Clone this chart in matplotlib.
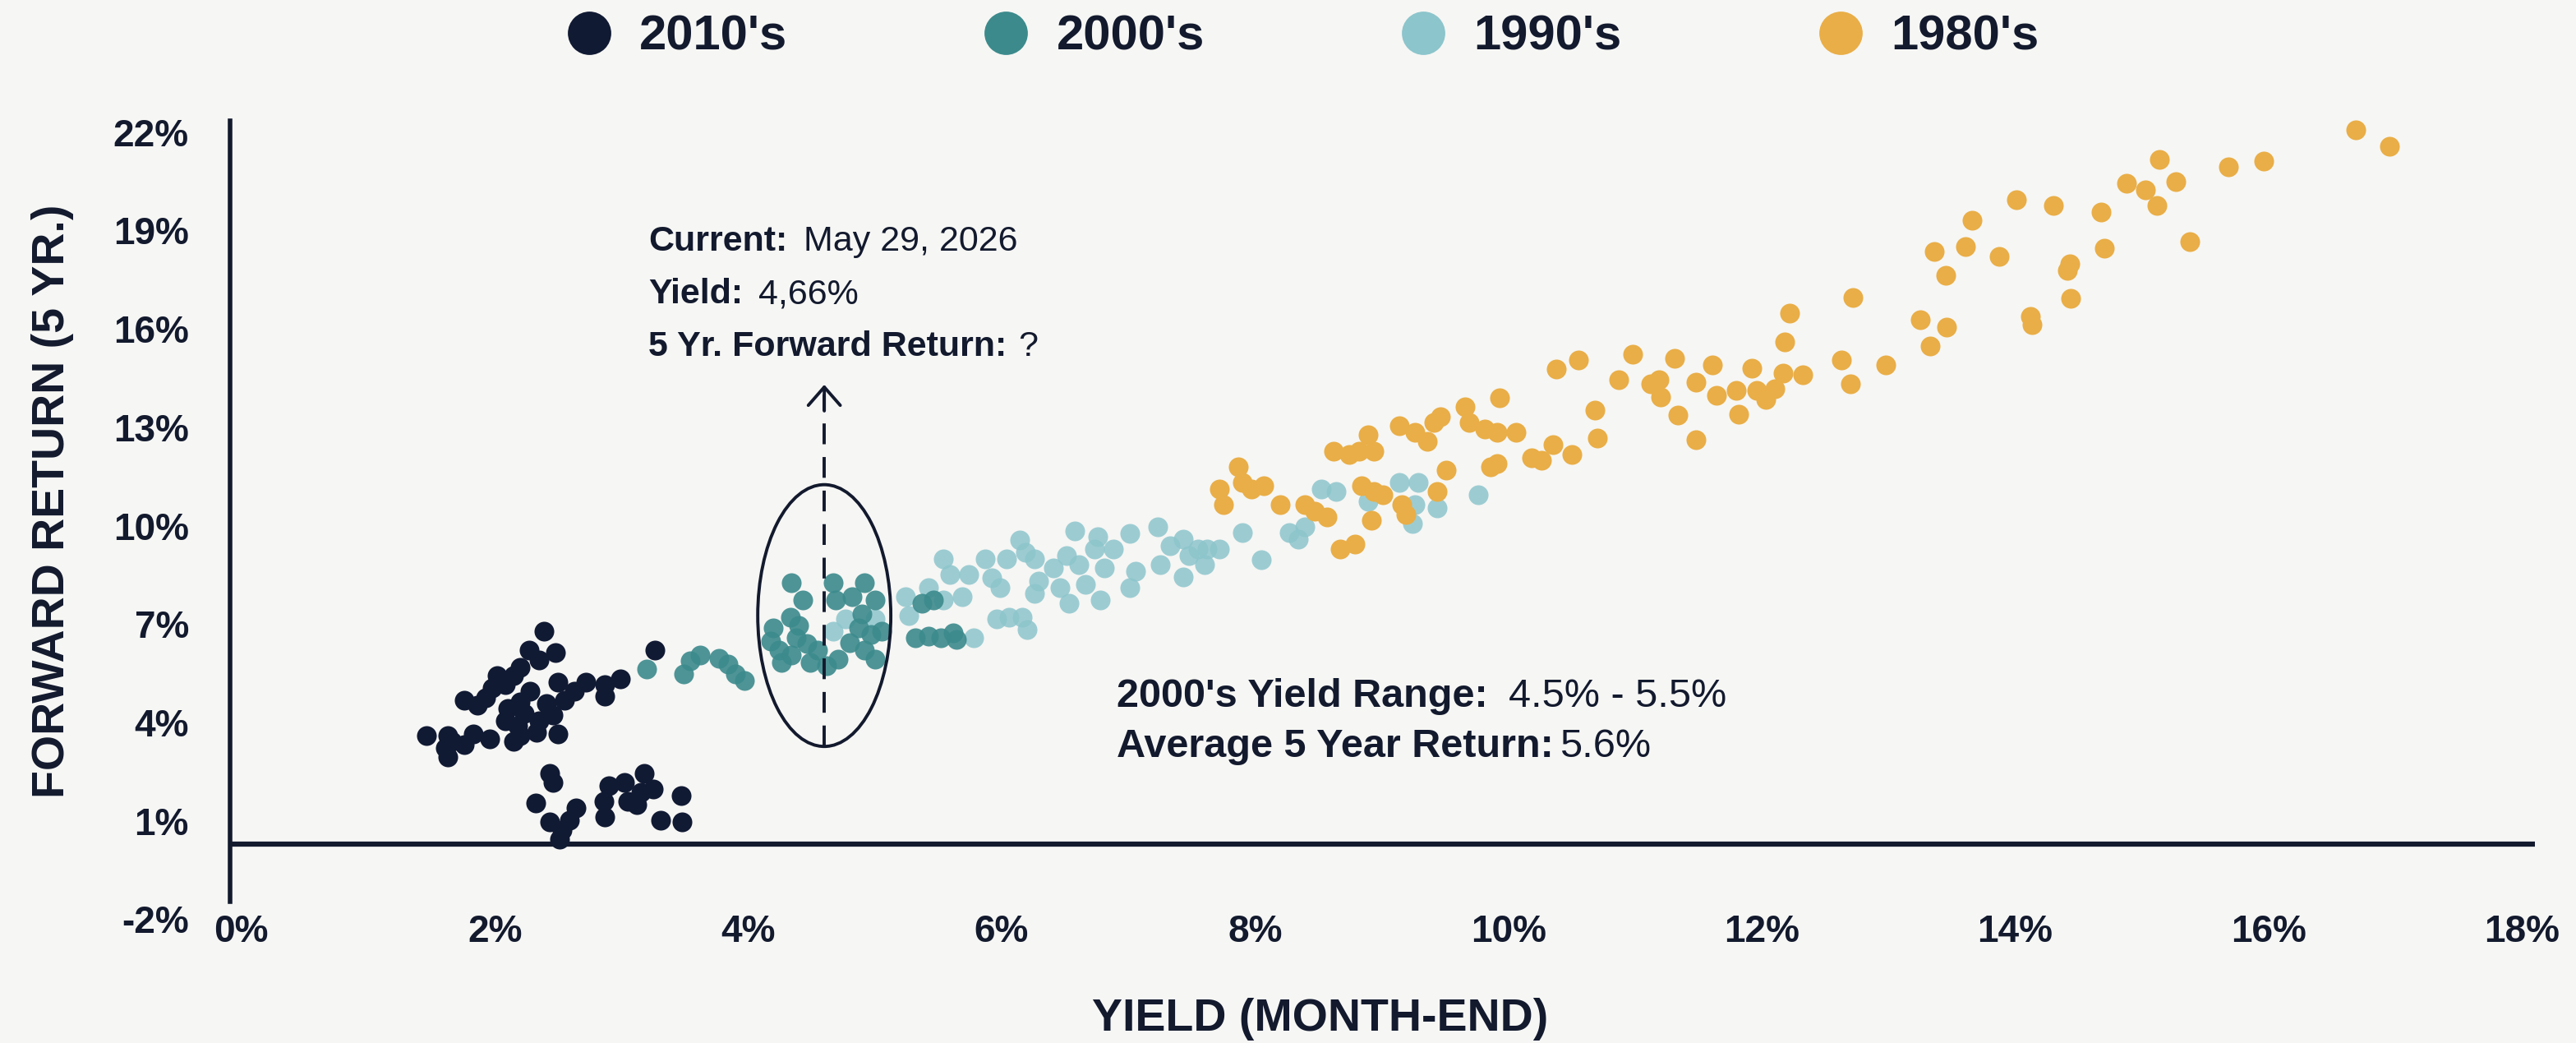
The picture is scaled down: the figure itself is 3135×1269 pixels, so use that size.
import matplotlib
matplotlib.use("Agg")
import matplotlib.pyplot as plt
from matplotlib.patches import Ellipse
from matplotlib.lines import Line2D

plt.rcParams['font.family'] = ['Liberation Sans', 'DejaVu Sans']

BG = '#f6f6f4'
INK = '#131a2e'

# --- data (yield %, 5yr forward return %) ---
decades = ["2010's", "2000's", "1990's", "1980's"]
colors = ['#111a33', '#3c8a8c', '#8cc5cc', '#e9ae47']

yield_2010s = [2.39, 2.27, 2.48, 2.35, 2.20, 2.15, 2.02, 2.08, 1.98, 2.50, 2.72, 2.87, 2.99, 2.63,
               2.28, 1.76, 1.86, 1.93, 2.87, 2.55, 2.41, 2.20, 2.10, 2.23, 2.08, 2.46, 2.35, 2.18,
               2.50, 2.33, 1.46, 1.63, 1.83, 1.96, 1.76, 1.61, 1.66, 1.63, 2.15, 2.20, 3.26,
               2.43, 2.46, 2.32, 2.43, 2.53, 2.64, 2.59, 2.86, 2.87, 2.90, 3.02, 3.05, 3.18, 3.15,
               3.25, 3.12, 3.47, 3.31, 3.48, 2.51]
return_2010s = [6.78, 6.20, 6.13, 5.91, 5.67, 5.43, 5.43, 5.15, 5.05, 5.24, 5.24, 5.15, 5.34, 4.95,
                4.95, 4.67, 4.52, 4.76, 4.81, 4.67, 4.57, 4.62, 4.43, 4.28, 4.04, 4.23, 4.04, 3.90,
                3.66, 3.71, 3.61, 3.61, 3.66, 3.51, 3.32, 3.22, 3.42, 2.94, 3.42, 3.61, 6.20,
                2.46, 2.17, 1.54, 0.97, 0.73, 1.40, 1.02, 1.59, 1.11, 2.07, 2.17, 1.59, 2.46, 1.88,
                1.98, 1.50, 1.78, 1.02, 0.97, 0.44]

yield_2000s = [3.20, 3.49, 3.54, 3.62, 3.77, 3.84, 3.90, 3.97,
               4.34, 4.43, 4.33, 4.20, 4.18, 4.24, 4.26, 4.38, 4.40, 4.34, 4.49, 4.46, 4.55,
               4.67, 4.69, 4.82, 4.92, 5.00, 4.90, 4.87, 4.97, 4.92, 5.00, 4.80, 4.71, 4.62, 5.05,
               5.32, 5.42, 5.52, 5.62, 5.64, 5.37, 5.46]
return_2000s = [5.63, 5.48, 5.87, 6.06, 5.96, 5.77, 5.48, 5.29,
                8.27, 7.74, 7.21, 6.88, 6.49, 6.20, 5.82, 6.59, 6.97, 6.06, 5.82, 6.40, 6.20,
                8.27, 7.74, 7.84, 8.27, 7.74, 7.31, 6.88, 6.68, 6.20, 5.92, 6.44, 5.92, 5.72, 6.78,
                6.59, 6.64, 6.59, 6.73, 6.54, 7.64, 7.74]

yield_1990s = [4.77, 5.00, 4.67,
               5.24, 5.27, 5.42, 5.54, 5.59, 5.69, 5.74, 5.87, 5.92, 5.99, 6.04, 6.14, 6.19, 6.26,
               6.29, 6.26, 6.41, 6.46, 6.51, 6.53, 6.58, 6.61, 6.66, 6.73, 6.76, 6.78, 6.81, 6.88,
               7.01, 7.01, 7.06, 5.96, 6.06, 6.16, 6.20, 5.78, 5.54,
               7.23, 7.25, 7.33, 7.43, 7.43, 7.48, 7.55, 7.62, 7.60, 7.72, 7.90, 8.05, 8.27, 8.34,
               8.39, 8.52, 8.64, 8.89, 9.14, 9.29, 9.26, 9.24, 9.44, 9.76]
return_1990s = [7.16, 7.16, 6.78,
                7.84, 7.26, 8.12, 8.99, 8.51, 7.84, 8.51, 8.99, 8.41, 8.12, 8.99, 9.57, 9.18, 8.99,
                8.32, 7.93, 8.70, 8.12, 9.09, 7.64, 9.85, 8.80, 8.22, 9.28, 9.66, 7.74, 8.70, 9.28,
                9.76, 8.12, 8.61, 7.16, 7.21, 7.21, 6.83, 6.59, 7.74,
                9.97, 8.82, 9.39, 9.58, 8.43, 9.10, 9.30, 9.30, 8.82, 9.30, 9.78, 8.96, 9.78, 9.58,
                9.97, 11.12, 11.03, 10.74, 11.31, 11.31, 10.64, 10.06, 10.55, 10.93]

yield_1980s = [7.72, 7.75, 7.87, 7.90, 7.97, 8.07, 8.20, 8.39, 8.47, 8.57, 8.67, 8.79, 8.62, 8.74,
               8.82, 8.89, 8.94, 8.84, 8.94, 9.01, 8.92, 9.16, 9.19, 9.14, 9.26, 9.36, 9.41, 9.46,
               9.51, 9.44, 9.66, 9.69, 9.81, 9.91, 9.93, 10.06, 9.86, 9.91, 10.18, 10.26, 10.35,
               10.38, 10.55, 10.50, 10.68, 10.70,
               10.87, 10.98, 11.12, 11.19, 11.20, 11.34, 11.31, 11.48, 11.48, 11.61, 11.64, 11.80,
               11.82, 11.92, 11.96, 12.03, 12.10, 12.17, 12.32, 12.18, 12.22, 12.63, 12.70, 12.72,
               12.98, 13.25, 13.33, 13.46, 13.36, 13.45, 13.61, 13.66, 13.87, 14.01, 14.30, 14.12,
               14.13,
               14.41, 14.43, 14.44, 14.68, 14.70, 14.88, 15.03, 15.12, 15.14, 15.27, 15.38, 15.68,
               15.96, 16.69, 16.95]
return_1980s = [11.12, 10.64, 11.79, 11.31, 11.12, 11.22, 10.64, 10.64, 10.45, 10.26, 9.30, 9.44,
                12.27, 12.18, 12.27, 12.76, 12.27, 11.22, 11.03, 10.93, 10.16, 10.64, 10.35, 13.04,
                12.85, 12.56, 13.14, 13.33, 11.70, 11.03, 13.62, 13.14, 12.95, 12.85, 13.91, 12.85,
                11.79, 11.89, 12.08, 11.99, 12.47, 14.77, 15.06, 12.18, 13.52, 12.66,
                14.46, 15.23, 14.32, 14.46, 13.93, 13.36, 15.11, 14.37, 12.63, 14.89, 13.98, 14.13,
                13.41, 14.80, 14.13, 13.84, 14.17, 14.65, 14.61, 15.61, 16.48, 15.05, 14.32, 16.96,
                14.89, 16.29, 15.47, 16.05, 18.35, 17.63, 18.50, 19.31, 18.21, 19.94, 19.75, 16.38,
                16.14,
                17.78, 17.99, 16.92, 19.56, 18.46, 20.43, 20.23, 19.75, 21.17, 20.49, 18.65, 20.95,
                21.12, 22.06, 21.56]

x_ticks = [0, 2, 4, 6, 8, 10, 12, 14, 16, 18]
y_ticks = [-2, 1, 4, 7, 10, 13, 16, 19, 22]

current_yield = 4.6
ellipse_center = (4.60, 7.26)
ellipse_size = (1.05, 7.98)

fig = plt.figure(figsize=(31.35, 12.69), dpi=100, facecolor=BG)
ax = fig.add_axes([0.0893, 0.1186, 0.8947, 0.7705])
ax.set_facecolor(BG)
ax.set_xlim(-0.09, 18.1)
ax.set_ylim(-2.0, 22.5)

# scatter, 1990s under 1980s
ax.scatter(yield_1990s, return_1990s, s=300, color=colors[2], alpha=0.85, lw=0, zorder=3)
ax.scatter(yield_1980s, return_1980s, s=300, color=colors[3], lw=0, zorder=4)
ax.scatter(yield_2000s, return_2000s, s=300, color=colors[1], alpha=0.9, lw=0, zorder=5)
ax.scatter(yield_2010s, return_2010s, s=300, color=colors[0], lw=0, zorder=6)

# zero line and left axis
ax.axhline(0.3, color=INK, lw=4.5, zorder=2)
for side in ['top', 'right', 'bottom']:
    ax.spines[side].set_visible(False)
ax.spines['left'].set_color(INK)
ax.spines['left'].set_linewidth(4)
ax.spines['left'].set_bounds(-1.45, 22.35)

ax.set_xticks(x_ticks)
ax.set_xticklabels([f'{v}%' for v in x_ticks])
ax.set_yticks(y_ticks)
ax.set_yticklabels([f'{v}%' for v in y_ticks])
ax.tick_params(axis='both', length=0, labelsize=33, labelcolor=INK)
ax.tick_params(axis='y', pad=36)
ax.tick_params(axis='x', pad=-5)
for lab in ax.get_xticklabels() + ax.get_yticklabels():
    lab.set_fontweight('bold')

# ellipse + dashed arrow
ax.add_patch(Ellipse(ellipse_center, ellipse_size[0], ellipse_size[1], fill=False,
                     ec=INK, lw=2.8, zorder=7))
ax.plot([current_yield, current_yield], [3.27, 14.0], color=INK, lw=2.8, ls='--',
        dashes=(6.5, 4), zorder=7)
ax.annotate('', xy=(current_yield, 14.3), xytext=(current_yield, 13.5),
            arrowprops=dict(arrowstyle='->,head_length=0.8,head_width=0.7', lw=2.8, color=INK,
                            mutation_scale=20, shrinkA=0, shrinkB=0),
            zorder=7)

# annotation texts
def label_pair(x, y, bold, regular, size, gap):
    t = ax.text(x, y, bold, fontsize=size, fontweight='bold', color=INK, va='center', ha='left')
    ax.annotate(regular, xy=(1, 0.5), xycoords=t, xytext=(gap, 0), textcoords='offset points',
                fontsize=size, color=INK, va='center', ha='left')

label_pair(3.21, 18.65, 'Current:', 'May 29, 2026', 31, 14)
label_pair(3.21, 17.05, 'Yield:', '4,66%', 31, 14)
label_pair(3.21, 15.45, '5 Yr. Forward Return:', '?', 31, 10)

label_pair(6.91, 4.80, "2000's Yield Range:", '4.5% - 5.5%', 35, 18)
label_pair(6.91, 3.25, 'Average 5 Year Return:', '5.6%', 35, 5)

# axis titles
fig.text(64 / 3135, 1 - 610 / 1269, 'FORWARD RETURN (5 YR.)', rotation=90, fontsize=40,
         fontweight='bold', color=INK, ha='center', va='center')
fig.text(1607 / 3135, 1 - 1240 / 1269, 'YIELD (MONTH-END)', fontsize=40,
         fontweight='bold', color=INK, ha='center', va='center')

# legend on top
handles = [Line2D([], [], marker='o', ls='none', markersize=38, color=c, mew=0) for c in colors]
leg = fig.legend(handles, decades, loc='center left', bbox_to_anchor=(687 / 3135, 1 - 45 / 1269),
                 ncol=4, frameon=False, prop={'weight': 'bold', 'size': 43},
                 handlelength=1.0, handletextpad=0.53, columnspacing=3.95,
                 borderpad=0, borderaxespad=0)
for t in leg.get_texts():
    t.set_color(INK)

fig.savefig('out.png', dpi=100, facecolor=BG)
